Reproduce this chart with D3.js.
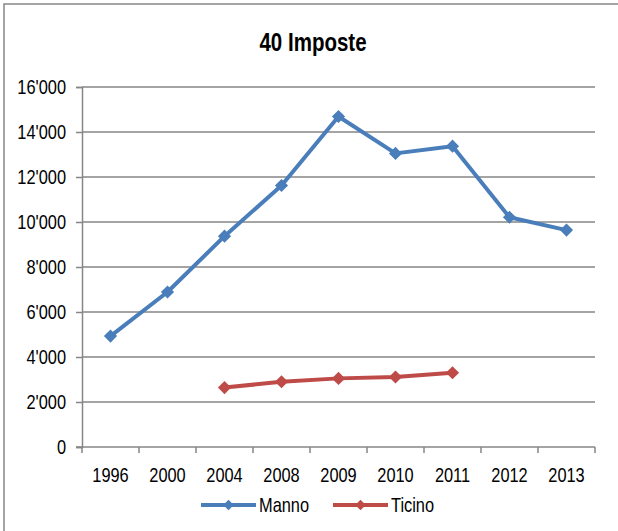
<!DOCTYPE html>
<html>
<head>
<meta charset="utf-8">
<script src="https://cdn.jsdelivr.net/npm/d3@7"></script>
<style>
  html, body { margin: 0; padding: 0; background: #fff; }
  svg { display: block; }
  text { font-family: "Liberation Sans", Arial, sans-serif; fill: #000; }
</style>
</head>
<body>
<svg id="chart" width="618" height="531"></svg>
<script>
// Categories (years) and values for the "40 Imposte" account
const years = ["1996", "2000", "2004", "2008", "2009", "2010", "2011", "2012", "2013"];
const manno = [4930, 6890, 9370, 11620, 14690, 13050, 13370, 10210, 9640];
const ticino = [null, null, 2640, 2900, 3050, 3110, 3300, null, null];
const yTicks = [0, 2000, 4000, 6000, 8000, 10000, 12000, 14000, 16000];
const seriesNames = ["Manno", "Ticino"];
const seriesColors = ["#4a7ebb", "#be4b48"];
const title = "40 Imposte";

const svg = d3.select("#chart");
const W = 618, H = 531;
const m = { left: 82, right: 23, top: 87, bottom: 84 };
const NARROW = 0.82; // horizontal squeeze for a condensed look

// condensed text helper
function ntext(sel, x, y, str, size, anchor, weight) {
  return sel.append("text")
    .attr("transform", `translate(${x},${y}) scale(${NARROW},1)`)
    .attr("text-anchor", anchor || "start")
    .attr("font-size", size)
    .attr("font-weight", weight || "normal")
    .text(str);
}

// outer frame (top and left edges fall inside the view)
svg.append("rect")
  .attr("x", 4).attr("y", 4)
  .attr("width", W + 10).attr("height", H + 10)
  .attr("fill", "#fff").attr("stroke", "#868686").attr("stroke-width", 1.5);

const x = d3.scaleBand().domain(years).range([m.left, W - m.right]).padding(0);
const y = d3.scaleLinear().domain([0, 16000]).range([H - m.bottom, m.top]);

const fmt = v => v === 0 ? "0" : d3.format(",")(v).replace(/,/g, "'");

// horizontal gridlines
svg.append("g").selectAll("line").data(yTicks.filter(t => t > 0)).join("line")
  .attr("x1", m.left).attr("x2", W - m.right)
  .attr("y1", d => y(d)).attr("y2", d => y(d))
  .attr("stroke", "#868686").attr("stroke-width", 1.5);

// y axis line and ticks
const yAxis = svg.append("g").attr("transform", `translate(${m.left},0)`)
  .call(d3.axisLeft(y).tickValues(yTicks).tickFormat("").tickSize(6));
yAxis.select(".domain").attr("stroke", "#868686").attr("stroke-width", 1.5);
yAxis.selectAll(".tick line").attr("stroke", "#868686").attr("stroke-width", 1.5);
const yLab = svg.append("g");
yTicks.forEach(t => ntext(yLab, m.left - 16, y(t) + 7, fmt(t), 20, "end"));

// x axis with ticks at category boundaries
const xAxisG = svg.append("g").attr("transform", `translate(0,${y(0)})`);
xAxisG.append("line")
  .attr("x1", m.left - 6).attr("x2", W - m.right)
  .attr("stroke", "#868686").attr("stroke-width", 1.5);
const bounds = years.map(d => x(d)).concat([x(years[years.length - 1]) + x.bandwidth()]);
xAxisG.selectAll("line.tk").data(bounds).join("line").attr("class", "tk")
  .attr("x1", d => d).attr("x2", d => d).attr("y1", 0).attr("y2", 6)
  .attr("stroke", "#868686").attr("stroke-width", 1.5);
years.forEach(d => ntext(xAxisG, x(d) + x.bandwidth() / 2, 35, d, 20, "middle"));

// title
ntext(svg, 313, 51, title, 25, "middle", "bold");

const cx = d => x(d) + x.bandwidth() / 2;
const diamond = d3.symbol().type(d3.symbolDiamond2).size(110);

function drawSeries(vals, color) {
  const pts = years.map((yr, i) => ({ yr, v: vals[i] })).filter(p => p.v != null);
  const line = d3.line().x(p => cx(p.yr)).y(p => y(p.v));
  svg.append("path").datum(pts)
    .attr("d", line).attr("fill", "none")
    .attr("stroke", color).attr("stroke-width", 4).attr("stroke-linejoin", "round");
  svg.append("g").selectAll("path").data(pts).join("path")
    .attr("d", diamond)
    .attr("transform", p => `translate(${cx(p.yr)},${y(p.v)})`)
    .attr("fill", color);
}
drawSeries(manno, seriesColors[0]);
drawSeries(ticino, seriesColors[1]);

// legend
const legend = svg.append("g");
const legendItems = [
  { name: seriesNames[0], color: seriesColors[0], x0: 201 },
  { name: seriesNames[1], color: seriesColors[1], x0: 333 }
];
legendItems.forEach(it => {
  const ly = 505;
  legend.append("line")
    .attr("x1", it.x0).attr("x2", it.x0 + 55).attr("y1", ly).attr("y2", ly)
    .attr("stroke", it.color).attr("stroke-width", 4);
  legend.append("path")
    .attr("d", d3.symbol().type(d3.symbolDiamond2).size(70))
    .attr("transform", `translate(${it.x0 + 27.5},${ly})`)
    .attr("fill", it.color);
  ntext(legend, it.x0 + 58, ly + 7, it.name, 20, "start");
});
</script>
</body>
</html>
